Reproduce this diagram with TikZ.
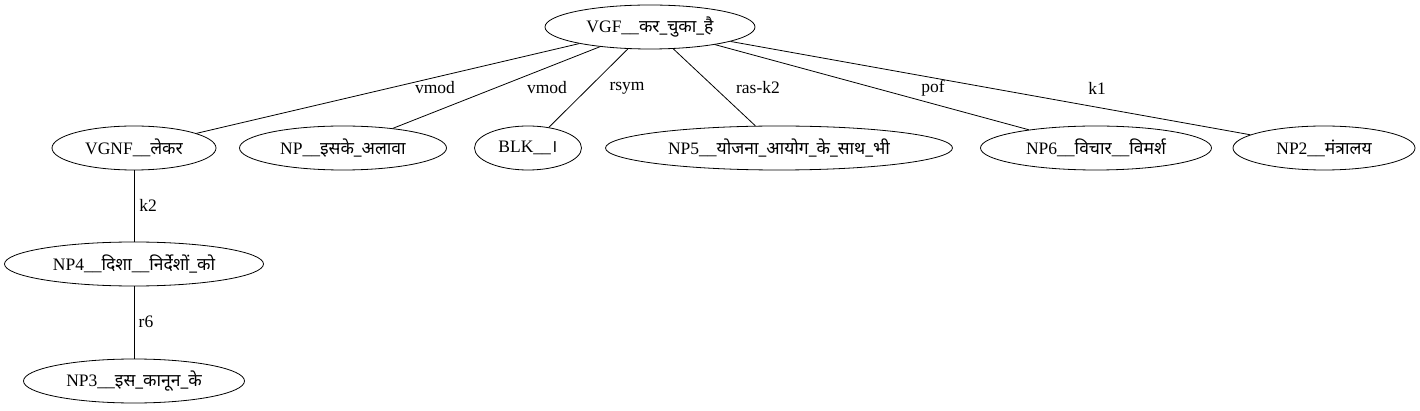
\documentclass[tikz,border=0pt]{standalone}
\usepackage{fontspec}
\setmainfont{Liberation Serif}
\newfontfamily\hindi[Script=Devanagari]{Noto Sans}
\usetikzlibrary{shapes.geometric}
\tikzset{tok/.style={draw,ellipse,inner sep=0pt,minimum height=44pt,line width=0.8pt},
lbl/.style={inner sep=0pt}}
\begin{document}
\begin{tikzpicture}[x=1pt,y=-1pt,font=\fontsize{17.5}{20}\selectfont]
\useasboundingbox (0,0) rectangle (1420,411);
\node[tok,minimum width=210pt] (vgf) at (650,27) {VGF\_\_{\hindi कर\_चुका\_है}};
\node[tok,minimum width=164pt] (vgnf) at (134,148) {VGNF\_\_{\hindi लेकर}};
\node[tok,minimum width=207pt] (np) at (343,148) {NP\_\_{\hindi इसके\_अलावा}};
\node[tok,minimum width=107pt] (blk) at (528,148) {BLK\_\_{\hindi ।}};
\node[tok,minimum width=347pt] (np5) at (779,148) {NP5\_\_{\hindi योजना\_आयोग\_के\_साथ\_भी}};
\node[tok,minimum width=231pt] (np6) at (1096,148) {NP6\_\_{\hindi विचार}\_\_{\hindi विमर्श}};
\node[tok,minimum width=182pt] (np2) at (1324,148) {NP2\_\_{\hindi मंत्रालय}};
\node[tok,minimum width=259pt] (np4) at (134,264) {NP4\_\_{\hindi दिशा}\_\_{\hindi निर्देशों\_को}};
\node[tok,minimum width=221pt] (np3) at (134,381) {NP3\_\_{\hindi इस\_कानून\_के}};

\draw[line width=0.8pt] (vgf) -- (vgnf);
\draw[line width=0.8pt] (vgf) -- (np);
\draw[line width=0.8pt] (vgf) -- (blk);
\draw[line width=0.8pt] (vgf) -- (np5);
\draw[line width=0.8pt] (vgf) -- (np6);
\draw[line width=0.8pt] (vgf) -- (np2);
\draw[line width=0.8pt] (vgnf) -- (np4);
\draw[line width=0.8pt] (np4) -- (np3);

\node[lbl] (l1) at (435,88) {vmod};
\node[lbl] (l2) at (547,88) {vmod};
\node[lbl] (l3) at (627,88) {rsym};
\node[lbl] (l4) at (758,88) {ras-k2};
\node[lbl] (l5) at (933,88) {pof};
\node[lbl] (l6) at (1097,88) {k1};
\node[lbl] (l7) at (148,205) {k2};
\node[lbl] (l8) at (146,322) {r6};
\end{tikzpicture}
\end{document}
